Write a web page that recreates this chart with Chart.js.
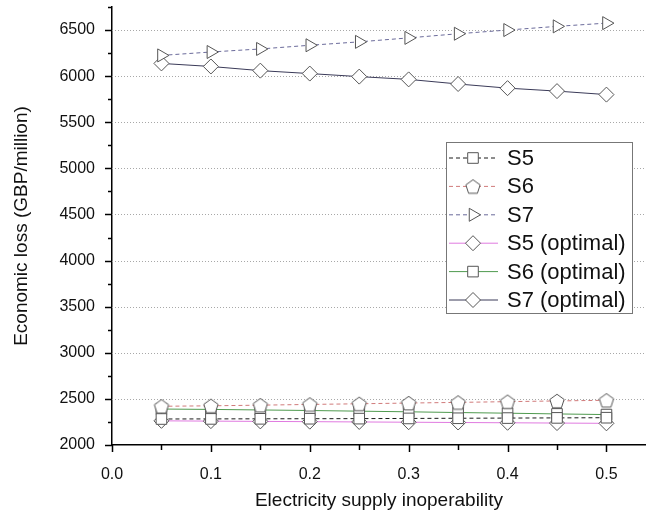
<!DOCTYPE html>
<html>
<head>
<meta charset="utf-8">
<script src="https://cdn.jsdelivr.net/npm/chart.js@4.4.0/dist/chart.umd.min.js"></script>
<style>
  html, body { margin: 0; padding: 0; background: #fff; }
</style>
</head>
<body>
<canvas id="myChart" width="646" height="517"></canvas>
<script>
// ------------------   DATA   ----------------
const inoperability = [0.05, 0.1, 0.15, 0.2, 0.25, 0.3, 0.35, 0.4, 0.45, 0.5];
const s5 = [2282, 2283, 2284, 2285, 2286, 2288, 2290, 2292, 2294, 2296];
const s6 = [2420, 2425, 2432, 2440, 2447, 2455, 2462, 2470, 2478, 2485];
const s7 = [6225, 6262, 6295, 6335, 6372, 6415, 6460, 6500, 6540, 6575];
const s5Optimal = [2262, 2259, 2256, 2253, 2250, 2247, 2244, 2241, 2238, 2235];
const s6Optimal = [2390, 2386, 2380, 2374, 2367, 2360, 2352, 2345, 2337, 2330];
const s7Optimal = [6138, 6105, 6060, 6028, 5995, 5965, 5915, 5870, 5838, 5800];
const seriesNames = ['S5', 'S6', 'S7', 'S5 (optimal)', 'S6 (optimal)', 'S7 (optimal)'];

const xTicks = [0, 0.1, 0.2, 0.3, 0.4, 0.5];
const xMinorTicks = [0.05, 0.15, 0.25, 0.35, 0.45];
const yTicks = [2000, 2500, 3000, 3500, 4000, 4500, 5000, 5500, 6000, 6500];
const yMinorTicks = [2250, 2750, 3250, 3750, 4250, 4750, 5250, 5750, 6250, 6750];

// ------------------   HELPERS   ----------------
const FONT = "'Liberation Sans', Arial, sans-serif";

function pentagon(r, stroke) {
  const size = Math.ceil(r * 2 + 3);
  const c = document.createElement('canvas');
  c.width = size;
  c.height = size;
  const g = c.getContext('2d');
  g.beginPath();
  for (let i = 0; i < 5; i++) {
    const a = -Math.PI / 2 + (i * 2 * Math.PI) / 5;
    const px = size / 2 + r * Math.cos(a);
    const py = size / 2 + r * Math.sin(a) + 0.8;
    if (i) g.lineTo(px, py);
    else g.moveTo(px, py);
  }
  g.closePath();
  g.fillStyle = '#fff';
  g.fill();
  g.strokeStyle = stroke;
  g.lineWidth = 1;
  g.stroke();
  return c;
}

function toPoints(values) {
  return values.map((v, i) => ({ x: inoperability[i], y: v }));
}

function series(i, values, color, dash, style, rotation) {
  return {
    label: seriesNames[i],
    data: toPoints(values),
    borderColor: color,
    borderWidth: 1,
    borderDash: dash,
    pointStyle: style,
    pointRotation: rotation || 0,
    pointRadius: 7.5,
    pointHoverRadius: 7.5,
    pointBorderWidth: 1,
    pointBorderColor: '#555',
    pointBackgroundColor: '#fff',
    tension: 0,
    fill: false,
  };
}

// grid + outside major/minor ticks
const axisDecor = {
  id: 'axisDecor',
  beforeDatasetsDraw(chart) {
    const { ctx, chartArea, scales: { x, y } } = chart;
    ctx.save();
    ctx.strokeStyle = '#a8a8a8';
    ctx.lineWidth = 1;
    ctx.setLineDash([1, 2]);
    yTicks.slice(1).forEach((v) => {
      const py = Math.round(y.getPixelForValue(v)) + 0.5;
      ctx.beginPath();
      ctx.moveTo(chartArea.left, py);
      ctx.lineTo(chartArea.right, py);
      ctx.stroke();
    });
    ctx.setLineDash([]);
    ctx.strokeStyle = '#000';
    ctx.lineWidth = 1.5;
    const tickY = (vals, len) => vals.forEach((v) => {
      const py = Math.round(y.getPixelForValue(v)) + 0.5;
      ctx.beginPath();
      ctx.moveTo(chartArea.left - len, py);
      ctx.lineTo(chartArea.left, py);
      ctx.stroke();
    });
    const tickX = (vals, len) => vals.forEach((v) => {
      const px = Math.round(x.getPixelForValue(v)) + 0.5;
      ctx.beginPath();
      ctx.moveTo(px, chartArea.bottom);
      ctx.lineTo(px, chartArea.bottom + len);
      ctx.stroke();
    });
    tickY(yTicks, 7);
    tickY(yMinorTicks, 4);
    tickX(xTicks, 7);
    tickX(xMinorTicks, 5);
    ctx.restore();
  },
};

// boxed legend inside the plot
const boxLegend = {
  id: 'boxLegend',
  afterDraw(chart) {
    const ctx = chart.ctx;
    const left = 446, top = 142, w = 186, h = 171, row = 28.4;
    ctx.save();
    ctx.fillStyle = '#fff';
    ctx.fillRect(left, top, w, h);
    ctx.strokeStyle = '#777';
    ctx.lineWidth = 1;
    ctx.strokeRect(left + 0.5, top + 0.5, w, h);
    chart.data.datasets.forEach((ds, i) => {
      const cy = top + 16 + i * row;
      ctx.beginPath();
      ctx.setLineDash(ds.borderDash || []);
      ctx.strokeStyle = ds.borderColor;
      ctx.lineWidth = 1;
      ctx.moveTo(left + 3, cy);
      ctx.lineTo(left + 52, cy);
      ctx.stroke();
      ctx.setLineDash([]);
      ctx.fillStyle = '#fff';
      ctx.strokeStyle = ds.pointBorderColor;
      Chart.helpers.drawPoint(ctx, {
        pointStyle: ds.pointStyle,
        radius: ds.pointRadius,
        rotation: ds.pointRotation,
        borderWidth: 1,
      }, left + 27, cy);
      ctx.fillStyle = '#111';
      ctx.font = '22px ' + FONT;
      ctx.textBaseline = 'middle';
      ctx.fillText(ds.label, left + 61, cy + 1);
    });
    ctx.restore();
  },
};

// ------------------   CHART   ----------------
const ctx = document.getElementById('myChart').getContext('2d');
const myChart = new Chart(ctx, {
  type: 'line',
  data: {
    datasets: [
      series(0, s5, '#1a1a1a', [4, 3], 'rect'),
      series(1, s6, '#d07a7a', [4, 3], pentagon(7.5, '#555')),
      series(2, s7, '#6a6a9a', [4, 3], 'triangle', 90),
      series(3, s5Optimal, '#e07ae0', [], 'rectRot'),
      series(4, s6Optimal, '#4f9a4f', [], 'rect'),
      series(5, s7Optimal, '#3a3a58', [], 'rectRot'),
    ],
  },
  options: {
    responsive: false,
    animation: false,
    devicePixelRatio: 1,
    layout: { autoPadding: false, padding: { top: 7, right: 0, left: 0, bottom: 0 } },
    plugins: { legend: { display: false }, tooltip: { enabled: false } },
    scales: {
      x: {
        type: 'linear',
        min: 0,
        max: 0.54,
        grid: { display: false, drawTicks: false },
        border: { display: true, color: '#000', width: 1.5 },
        ticks: {
          padding: 20,
          color: '#111',
          font: { family: FONT, size: 16 },
          maxRotation: 0,
          autoSkip: false,
          callback: (v) => v.toFixed(1),
        },
        afterBuildTicks(scale) {
          scale.ticks = xTicks.map((v) => ({ value: v }));
        },
        title: {
          display: true,
          text: 'Electricity supply inoperability',
          color: '#111',
          font: { family: FONT, size: 19 },
          padding: { top: 0, bottom: 5 },
        },
        afterFit(scale) {
          scale.height = 72;
          scale.paddingLeft = 0;
          scale.paddingRight = 0;
        },
      },
      y: {
        min: 2000,
        max: 6750,
        grid: { display: false, drawTicks: false },
        border: { display: true, color: '#000', width: 1.5 },
        ticks: {
          padding: 17,
          color: '#111',
          font: { family: FONT, size: 16 },
          autoSkip: false,
          callback: (v) => String(v),
        },
        afterBuildTicks(scale) {
          scale.ticks = yTicks.map((v) => ({ value: v }));
        },
        title: {
          display: true,
          text: 'Economic loss (GBP/million)',
          color: '#111',
          font: { family: FONT, size: 19 },
          padding: { top: 10, bottom: 0 },
        },
        afterFit(scale) {
          scale.width = 112;
          scale.paddingTop = 0;
          scale.paddingBottom = 0;
        },
      },
    },
  },
  plugins: [axisDecor, boxLegend],
});
</script>
</body>
</html>
